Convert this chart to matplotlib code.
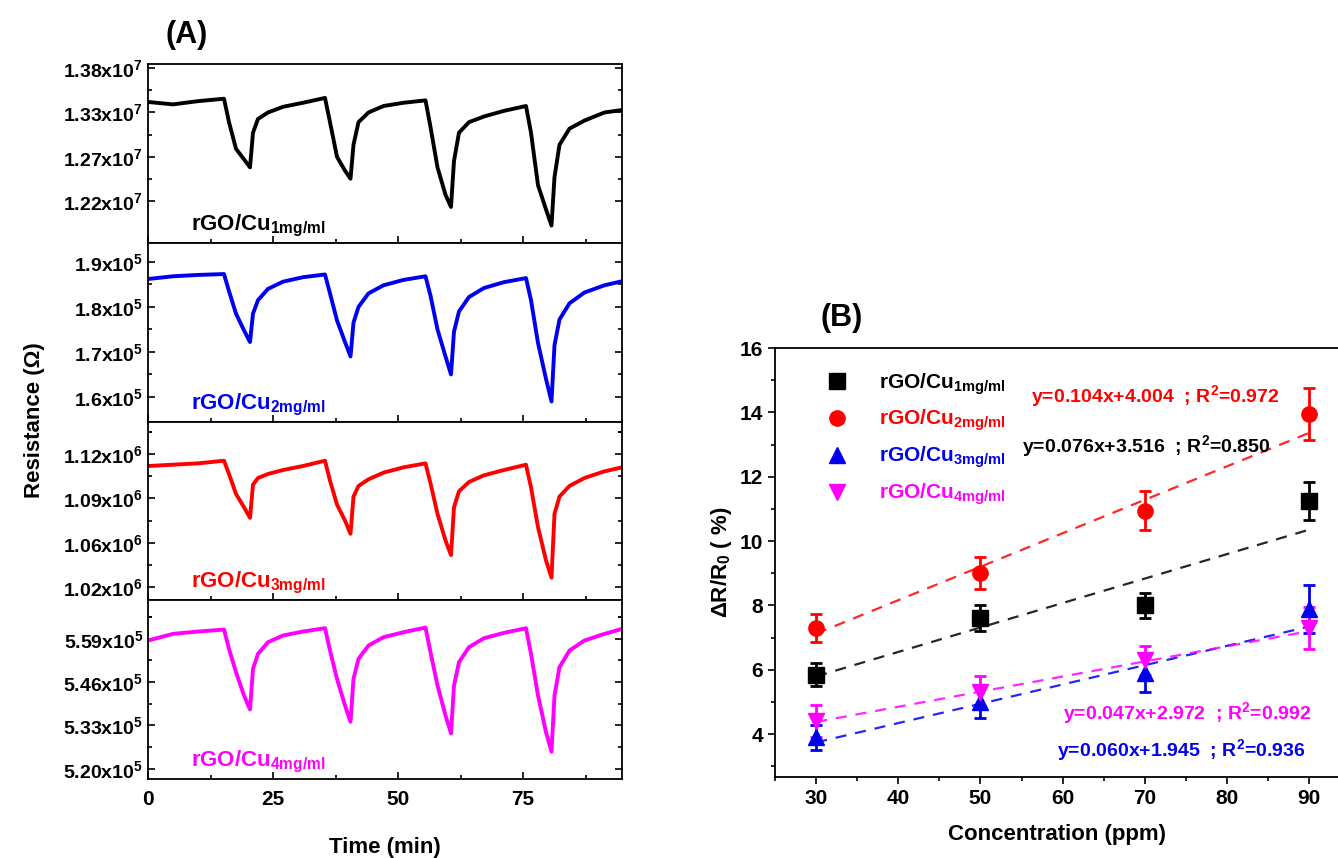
import matplotlib
matplotlib.use("Agg")
import matplotlib.pyplot as plt
import numpy as np
from matplotlib.ticker import MultipleLocator, FixedLocator
from matplotlib.lines import Line2D

plt.rcParams["font.family"] = ["Liberation Sans", "DejaVu Sans"]
plt.rcParams["font.weight"] = "bold"
plt.rcParams["axes.labelweight"] = "bold"
plt.rcParams["mathtext.fontset"] = "custom"
plt.rcParams["mathtext.rm"] = "Liberation Sans:bold"
plt.rcParams["mathtext.bf"] = "Liberation Sans:bold"
plt.rcParams["mathtext.it"] = "Liberation Sans:bold"

# ---- panel A: resistance transients (knots) ----
time_min = [0, 5, 10, 15.2,
            16.2, 17.6, 19.2, 20.4, 21.0, 22.0, 24.0, 27.0, 31.0, 35.4,
            36.4, 37.8, 39.4, 40.5, 41.1, 42.1, 44.1, 47.1, 51.1, 55.5,
            56.5, 57.9, 59.5, 60.6, 61.2, 62.2, 64.2, 67.2, 71.2, 75.6,
            76.6, 78.0, 79.6, 80.7, 81.3, 82.3, 84.3, 87.3, 91.3, 94.8]

r_1mg = [1.343, 1.340, 1.344, 1.347,
         1.318, 1.285, 1.272, 1.262, 1.305, 1.322, 1.330, 1.337, 1.342, 1.348,
         1.318, 1.275, 1.258, 1.248, 1.290, 1.318, 1.330, 1.338, 1.342, 1.345,
         1.312, 1.262, 1.228, 1.213, 1.270, 1.305, 1.318, 1.325, 1.332, 1.338,
         1.305, 1.240, 1.210, 1.190, 1.250, 1.290, 1.310, 1.320, 1.330, 1.333]
r_2mg = [1.862, 1.868, 1.871, 1.873,
         1.835, 1.785, 1.748, 1.722, 1.785, 1.815, 1.840, 1.856, 1.866, 1.872,
         1.830, 1.770, 1.722, 1.690, 1.765, 1.800, 1.830, 1.848, 1.860, 1.868,
         1.825, 1.750, 1.690, 1.650, 1.745, 1.790, 1.822, 1.842, 1.855, 1.864,
         1.815, 1.720, 1.640, 1.590, 1.715, 1.772, 1.808, 1.832, 1.848, 1.857]
r_3mg = [1.111, 1.112, 1.113, 1.115,
         1.105, 1.090, 1.080, 1.072, 1.097, 1.102, 1.105, 1.108, 1.111, 1.115,
         1.100, 1.082, 1.070, 1.060, 1.088, 1.096, 1.101, 1.106, 1.110, 1.113,
         1.098, 1.075, 1.055, 1.044, 1.080, 1.092, 1.099, 1.104, 1.108, 1.112,
         1.095, 1.065, 1.040, 1.027, 1.075, 1.088, 1.096, 1.102, 1.107, 1.110]
r_4mg = [5.585, 5.605, 5.612, 5.618,
         5.560, 5.490, 5.420, 5.378, 5.500, 5.545, 5.580, 5.600, 5.612, 5.622,
         5.555, 5.470, 5.390, 5.341, 5.470, 5.530, 5.570, 5.595, 5.610, 5.624,
         5.550, 5.450, 5.360, 5.306, 5.450, 5.520, 5.565, 5.592, 5.608, 5.622,
         5.545, 5.420, 5.310, 5.251, 5.420, 5.505, 5.555, 5.585, 5.605, 5.620]

panel_a = [
    (r_1mg, "black", "1mg/ml", (1.1687, 1.390), [1.385, 1.330, 1.275, 1.220],
     ["1.38", "1.33", "1.27", "1.22"], 7),
    (r_2mg, "#0000ee", "2mg/ml", (1.5455, 1.9425), [1.9, 1.8, 1.7, 1.6],
     ["1.9", "1.8", "1.7", "1.6"], 5),
    (r_3mg, "#ff0000", "3mg/ml", (1.010, 1.1445), [1.12, 1.0867, 1.0533, 1.02],
     ["1.12", "1.09", "1.06", "1.02"], 6),
    (r_4mg, "#ff00ff", "4mg/ml", (5.169, 5.706), [5.59, 5.46, 5.33, 5.20],
     ["5.59", "5.46", "5.33", "5.20"], 5),
]

# ---- panel B: response vs concentration ----
conc = [30, 50, 70, 90]
resp_1mg = [5.85, 7.6, 8.0, 11.25]
err_1mg = [0.35, 0.4, 0.4, 0.6]
resp_2mg = [7.3, 9.0, 10.95, 13.95]
err_2mg = [0.45, 0.5, 0.6, 0.8]
resp_3mg = [3.9, 5.0, 5.9, 7.9]
err_3mg = [0.4, 0.5, 0.6, 0.75]
resp_4mg = [4.4, 5.3, 6.3, 7.3]
err_4mg = [0.5, 0.5, 0.45, 0.65]
fit_slope = [0.076, 0.104, 0.060, 0.047]
fit_icpt = [3.516, 4.004, 1.945, 2.972]
fit_r2 = ["0.850", "0.972", "0.936", "0.992"]

W, H = 1338, 858
fig = plt.figure(figsize=(W / 100, H / 100), dpi=100)

left_a, right_a, top_a, bot_a = 148, 622, 64, 779
ph = (bot_a - top_a) / 4
for i, (vals, col, sub, ylim, ticks, labs, exp) in enumerate(panel_a):
    y0 = top_a + i * ph
    ax = fig.add_axes([left_a / W, 1 - (y0 + ph) / H, (right_a - left_a) / W, ph / H])
    ax.plot(time_min, vals, color=col, lw=2.8)
    ax.set_xlim(0, 94.8)
    ax.set_ylim(*ylim)
    ax.xaxis.set_major_locator(MultipleLocator(25))
    ax.xaxis.set_minor_locator(MultipleLocator(12.5))
    ax.yaxis.set_major_locator(FixedLocator(ticks))
    step = ticks[0] - ticks[1]
    ax.yaxis.set_minor_locator(FixedLocator([t + step / 2 for t in [ticks[0]] + ticks]))
    ax.set_yticklabels([f"{l}x10$^{{{exp}}}$" for l in labs], fontsize=14)
    ax.tick_params(which="both", direction="in", right=True, width=1.2)
    ax.tick_params(which="major", length=5)
    ax.tick_params(which="minor", length=3)
    for s in ax.spines.values():
        s.set_linewidth(1.3)
    if i < 3:
        ax.set_xticklabels([])
    else:
        ax.tick_params(axis="x", labelsize=15, pad=8)
        ax.set_xlabel("Time (min)", fontsize=16, labelpad=20)
    ax.text(0.09, 0.07, "rGO/Cu$_{" + sub + "}$", transform=ax.transAxes,
            color=col, fontsize=16)

fig.text(35 / W, 1 - 420 / H, "Resistance (Ω)", rotation=90, ha="center",
         va="center", fontsize=16)
fig.text(187 / W, 1 - 35 / H, "(A)", ha="center", va="center", fontsize=22)
fig.text(842 / W, 1 - 318 / H, "(B)", ha="center", va="center", fontsize=22)

# panel B
lb, rb, tb, bb = 775, 1338, 348, 777
axb = fig.add_axes([lb / W, 1 - bb / H, (rb - lb) / W, (bb - tb) / H])
series = [
    (resp_1mg, err_1mg, "black", "s", "1mg/ml"),
    (resp_2mg, err_2mg, "#ff0000", "o", "2mg/ml"),
    (resp_3mg, err_3mg, "#0000ee", "^", "3mg/ml"),
    (resp_4mg, err_4mg, "#ff00ff", "v", "4mg/ml"),
]
xfit = np.array([conc[0], conc[-1]])
handles = []
for k, (r, e, col, mk, sub) in enumerate(series):
    axb.errorbar(conc, r, yerr=e, fmt=mk, color=col, ms=11, capsize=4,
                 elinewidth=2, capthick=2)
    axb.plot(xfit, fit_slope[k] * xfit + fit_icpt[k], ls=(0, (5, 4)), color=col,
             lw=1.6, alpha=0.85)
    handles.append(Line2D([], [], ls="none", marker=mk, color=col, ms=11,
                          label="rGO/Cu$_{" + sub + "}$"))
axb.set_xlim(25, 93.5)
axb.set_ylim(2.67, 16)
axb.xaxis.set_minor_locator(MultipleLocator(5))
axb.yaxis.set_major_locator(MultipleLocator(2))
axb.yaxis.set_minor_locator(MultipleLocator(1))
axb.set_xticks([30, 40, 50, 60, 70, 80, 90])
axb.tick_params(which="both", direction="out", labelsize=15, width=1.2)
axb.tick_params(which="major", length=5)
axb.tick_params(which="minor", length=3)
axb.spines["right"].set_visible(False)
for s in axb.spines.values():
    s.set_linewidth(1.3)
axb.set_xlabel("Concentration (ppm)", fontsize=16, labelpad=12)
axb.set_ylabel("ΔR/R$_0$ ( %)", fontsize=16, labelpad=4)
axb.legend(handles=handles, loc="upper left", bbox_to_anchor=(0.04, 0.99),
           frameon=False, fontsize=15, labelcolor="linecolor",
           handletextpad=1.0, labelspacing=0.55)

eq_pos = [(55.0, 12.95), (56.1, 14.5), (59.3, 3.5), (60.0, 4.65)]
for k, (r, e, col, mk, sub) in enumerate(series):
    x, y = eq_pos[k]
    axb.text(x, y, f"y={fit_slope[k]:.3f}x+{fit_icpt[k]:.3f}  ; R$^2$={fit_r2[k]}",
             color=col, fontsize=14, va="center")

fig.savefig("out.png", dpi=100)
